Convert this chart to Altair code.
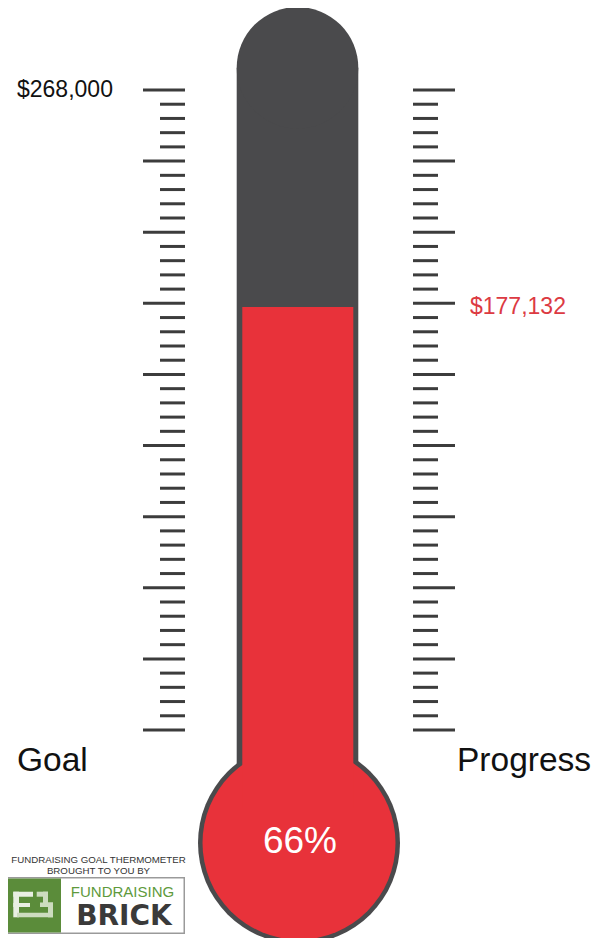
import altair as alt
import pandas as pd

# ---------------- data ----------------
goal = 268000
raised = 177132
n_divisions = 45          # minor tick intervals between 0 and goal
major_every = 5
side_labels = ["Goal", "Progress"]
logo_lines = ["FUNDRAISING GOAL THERMOMETER", "BROUGHT TO YOU BY"]
brand_words = ["FUNDRAISING", "BRICK"]

# ---------------- style / layout (plot pixel coordinates) ----------------
W, H = 587, 930
Y_ZERO, Y_GOAL = 722, 82
DARK = "#4a4a4c"
TICK = "#3c3c3c"
RED = "#e8323a"
RED_TEXT = "#dc3a42"
GREEN = "#5b8c3a"
FONT = "Liberation Sans"

dpp = goal / (Y_ZERO - Y_GOAL)
yscale = alt.Scale(domain=[-(H - Y_ZERO) * dpp, goal + Y_GOAL * dpp], nice=False, zero=False)

ticks = pd.DataFrame({"i": list(range(n_divisions + 1))})
ticks["value"] = ticks["i"] * goal / n_divisions
ticks["major"] = ticks["i"] % major_every == 0
ticks_major = ticks[ticks["major"]]
ticks_minor = ticks[~ticks["major"]]

goal_df = pd.DataFrame({"value": [goal], "label": [f"${goal:,}"]})
raised_df = pd.DataFrame({"value": [raised], "label": [f"${raised:,}"]})
pct_df = pd.DataFrame({"label": [f"{round(raised / goal * 100)}%"]})
one = pd.DataFrame({"a": [0]})

Y = lambda: alt.Y("value:Q", scale=yscale, axis=None)


def rule_layer(df, x0, x1):
    return alt.Chart(df).mark_rule(color=TICK, strokeWidth=3).encode(
        y=Y(), x=alt.value(x0), x2=alt.value(x1))


def rect(x0, x1, y0, y1, color):
    return alt.Chart(one).mark_rect(color=color).encode(
        x=alt.value(x0), x2=alt.value(x1), y=alt.value(y0), y2=alt.value(y1))


def disc(cx, cy, d, color):
    return alt.Chart(one).mark_circle(color=color, opacity=1, size=d * d).encode(
        x=alt.value(cx), y=alt.value(cy))


def label(text, x, y, size, color="#111111", align="left", weight="normal", font=FONT):
    return alt.Chart(pd.DataFrame({"t": [text]})).mark_text(
        align=align, baseline="middle", fontSize=size, color=color, font=font, fontWeight=weight
    ).encode(x=alt.value(x), y=alt.value(y), text="t:N")


layers = []
# scale ticks
layers += [rule_layer(ticks_major, 135, 177), rule_layer(ticks_minor, 152, 177),
           rule_layer(ticks_major, 405, 447), rule_layer(ticks_minor, 405, 430)]

# thermometer body
layers += [
    rect(228.7, 350.3, 59.8, 770, DARK),
    disc(289.5, 59.8, 121.6, DARK),
    disc(291, 835, 202, DARK),
    disc(291, 835, 193, RED),
    alt.Chart(raised_df).mark_rect(color=RED).encode(
        y=Y(), y2=alt.value(800), x=alt.value(234.3), x2=alt.value(345.3)),
]

# value labels
layers += [
    alt.Chart(goal_df).mark_text(align="left", baseline="middle", fontSize=23, font=FONT,
                                 color="#111111").encode(y=Y(), x=alt.value(9), text="label:N"),
    alt.Chart(raised_df).mark_text(align="left", baseline="middle", fontSize=23, font=FONT,
                                   color=RED_TEXT).encode(y=Y(), x=alt.value(462), text="label:N"),
    alt.Chart(pct_df).mark_text(align="center", baseline="middle", fontSize=37, font=FONT,
                                color="white").encode(x=alt.value(292), y=alt.value(834), text="label:N"),
    label(side_labels[0], 9, 753, 33.5),
    label(side_labels[1], 449, 753, 33.5),
]

# logo
layers += [
    label(logo_lines[0], 90.5, 851.5, 9.7, color="#333333", align="center"),
    label(logo_lines[1], 90.5, 863, 9.7, color="#333333", align="center"),
    rect(0, 177, 869, 926, "#9a9a9a"),
    rect(0, 175.5, 870.5, 924.5, "white"),
    rect(0, 53, 870.5, 924.5, GREEN),
    # F
    rect(5.3, 11, 883.7, 909.3, "#e9efe3"),
    rect(5.3, 25, 883.7, 888.7, "#e9efe3"),
    rect(5.3, 22, 895, 899, "#e9efe3"),
    # B
    rect(28.7, 40, 883.7, 888.7, "#cddcbf"),
    rect(35, 40, 883.7, 899, "#cddcbf"),
    rect(32, 45, 894.5, 899, "#cddcbf"),
    rect(40, 45, 894.5, 909.3, "#cddcbf"),
    rect(9, 45, 904.7, 909.3, "#cddcbf"),
    label(brand_words[0], 114.5, 883.5, 15, color="#5e9a3c", align="center"),
    label(brand_words[1], 116, 908.5, 28, color="#3a3a3a", align="center", weight="bold",
          font="DejaVu Sans"),
]

chart = alt.layer(*layers).properties(
    width=W, height=H, padding=0, autosize="none", background="white"
).configure_view(stroke=None)

chart.save("out.html", embed_options={"renderer": "svg", "actions": False})
